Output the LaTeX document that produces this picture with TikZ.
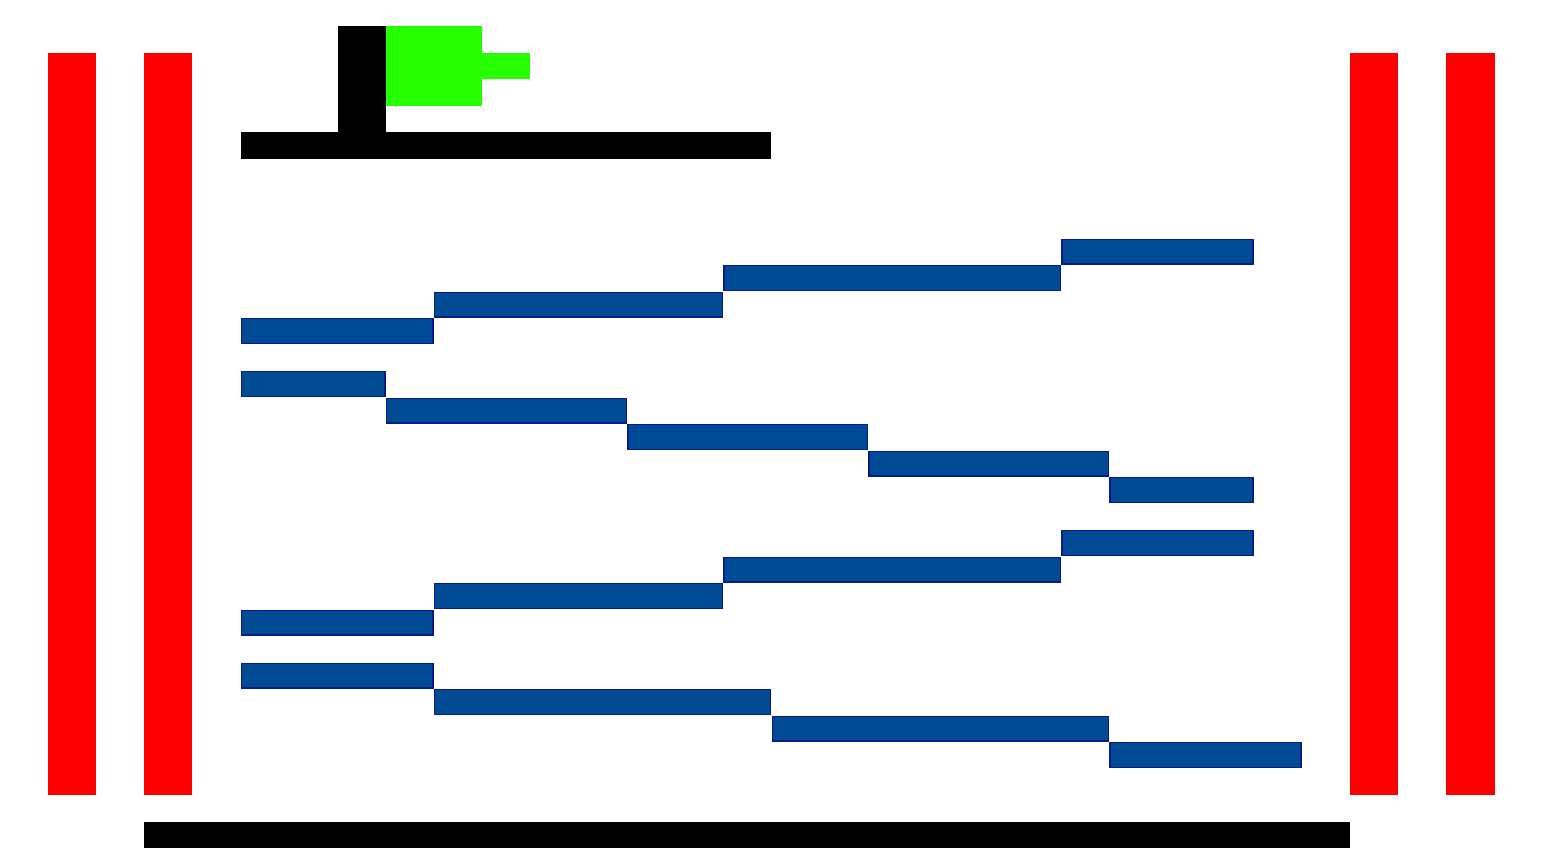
\documentclass[tikz,border=0pt]{standalone}
\definecolor{barblue}{HTML}{004B93}
\definecolor{baredge}{HTML}{0A1A8C}
\definecolor{brightgreen}{HTML}{26FF00}
\tikzset{
  redbar/.style={fill=red,draw=none},
  blackbar/.style={fill=black,draw=none},
  greenbar/.style={fill=brightgreen,draw=none},
  bluebar/.style={fill=barblue,draw=baredge,line width=1.4pt},
}
\newcommand{\pxbox}[5]{\path[#1] (#2,#3) rectangle (#4,#5);}
\begin{document}
\begin{tikzpicture}[x=1pt,y=-1pt]
\useasboundingbox[fill=white] (0,0) rectangle (1543,848);
% red walls
\pxbox{redbar}{48}{53}{96.2}{795}
\pxbox{redbar}{144.2}{53}{192.2}{795}
\pxbox{redbar}{1350}{53}{1398.2}{795}
\pxbox{redbar}{1446.2}{53}{1494.6}{795}
% black bars
\pxbox{blackbar}{144.2}{822}{1350}{848}
\pxbox{blackbar}{241}{132.5}{771.2}{159}
\pxbox{blackbar}{337.5}{26.5}{385.5}{135}
% green
\pxbox{greenbar}{385.5}{26.5}{482}{106}
\pxbox{greenbar}{482}{53}{530.2}{79.5}
% group 1
\pxbox{bluebar}{241.7}{318.7}{433.0}{343.6}
\pxbox{bluebar}{434.7}{292.2}{722.2}{317.1}
\pxbox{bluebar}{723.9}{265.7}{1060.2}{290.6}
\pxbox{bluebar}{1061.9}{239.2}{1252.8}{264.1}
% group 2
\pxbox{bluebar}{241.7}{371.7}{385.0}{396.6}
\pxbox{bluebar}{386.7}{398.2}{626.2}{423.1}
\pxbox{bluebar}{627.9}{424.7}{867.2}{449.6}
\pxbox{bluebar}{868.9}{451.2}{1108.2}{476.1}
\pxbox{bluebar}{1109.9}{477.7}{1252.8}{502.6}
% group 3
\pxbox{bluebar}{241.7}{610.2}{433.0}{635.1}
\pxbox{bluebar}{434.7}{583.7}{722.2}{608.6}
\pxbox{bluebar}{723.9}{557.2}{1060.2}{582.1}
\pxbox{bluebar}{1061.9}{530.7}{1252.8}{555.6}
% group 4
\pxbox{bluebar}{241.7}{663.2}{433.0}{688.1}
\pxbox{bluebar}{434.7}{689.7}{770.7}{714.6}
\pxbox{bluebar}{772.4}{716.2}{1108.2}{741.1}
\pxbox{bluebar}{1109.9}{742.7}{1301.0}{767.6}
\end{tikzpicture}
\end{document}
